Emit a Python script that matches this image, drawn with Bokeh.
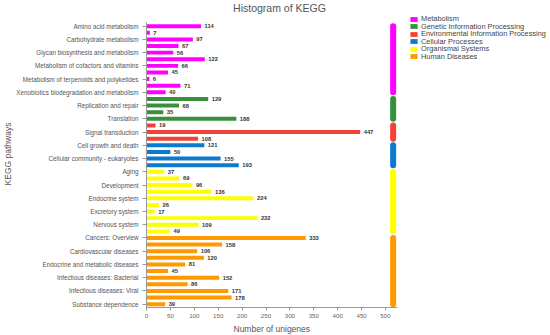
from bokeh.plotting import figure
from bokeh.models import ColumnDataSource, Range1d, FixedTicker, Legend, LegendItem, Label, Title
from bokeh.embed import file_html
from bokeh.resources import INLINE
from bokeh.core.properties import value

pathways = [
    "Amino acid metabolism", "Biosynthesis of other secondary metabolites",
    "Carbohydrate metabolism", "Energy metabolism",
    "Glycan biosynthesis and metabolism", "Lipid metabolism",
    "Metabolism of cofactors and vitamins", "Metabolism of other amino acids",
    "Metabolism of terpenoids and polyketides", "Nucleotide metabolism",
    "Xenobiotics biodegradation and metabolism",
    "Folding, sorting and degradation", "Replication and repair",
    "Transcription", "Translation",
    "Membrane transport", "Signal transduction",
    "Signaling molecules and interaction",
    "Cell growth and death", "Cell motility",
    "Cellular community - eukaryotes", "Transport and catabolism",
    "Aging", "Circulatory system", "Development", "Digestive system",
    "Endocrine system", "Environmental adaptation", "Excretory system",
    "Immune system", "Nervous system", "Sensory system",
    "Cancers: Overview", "Cancers: Specific types", "Cardiovascular diseases",
    "Drug resistance: Antineoplastic", "Endocrine and metabolic diseases",
    "Immune diseases", "Infectious diseases: Bacterial",
    "Infectious diseases: Parasitic", "Infectious diseases: Viral",
    "Neurodegenerative diseases", "Substance dependence",
]
counts = [114, 7, 97, 67, 56, 122, 66, 45, 6, 71, 40,
          129, 68, 35, 188,
          19, 447, 108,
          121, 50, 155, 193,
          37, 69, 96, 136, 224, 26, 17, 232, 109, 49,
          333, 158, 106, 120, 81, 45, 152, 86, 171, 178, 39]
group_names = ["Metabolism", "Genetic Information Processing",
               "Environmental Information Processing", "Cellular Processes",
               "Organismal Systems", "Human Diseases"]
group_sizes = [11, 4, 3, 4, 10, 11]
group_colors = ["#ff00ff", "#38903c", "#f44336", "#0b7bd0", "#ffff00", "#ff9900"]
x_ticks = [0, 50, 100, 150, 200, 250, 300, 350, 400, 450, 500]
x_axis_max = 525
title_text = "Histogram of KEGG"
x_label = "Number of unigenes"
y_label = "KEGG pathways"

FONT = "Liberation Sans"
n = len(pathways)

W, H = 550, 335
LEFT, BOTTOM = 146, 28
PX_PER_UNIT = 0.478
ROW_PX = 6.62
frame_w = W - LEFT
frame_h = H - BOTTOM
x_end = frame_w / PX_PER_UNIT
y_top = (n - 0.5) - frame_h / ROW_PX

# legend placement (screen px from frame top)
LEG_X = 263
LEG_FIRST = 18.7
LEG_PITCH = 7.45
LEG_ITEM_H = 9.2

p = figure(width=W, height=H, output_backend="svg", toolbar_location=None,
           x_range=Range1d(0, x_end), y_range=Range1d(n - 0.5, y_top),
           min_border_left=LEFT, min_border_right=0,
           min_border_top=0, min_border_bottom=BOTTOM)
p.outline_line_color = None
p.xgrid.visible = False
p.ygrid.visible = False

start = 0
for k, (name, size, color) in enumerate(zip(group_names, group_sizes, group_colors)):
    idx = list(range(start, start + size))
    src = ColumnDataSource(dict(y=idx, right=counts[start:start + size],
                                lab=[str(v) for v in counts[start:start + size]]))
    r = p.hbar(y="y", right="right", left=0, height=0.6, source=src,
               fill_color=color, line_color=None)
    p.text(x="right", y="y", text="lab", source=src, x_offset=3.5,
           text_baseline="middle", text_align="left",
           text_font=value(FONT), text_font_size="5.8px",
           text_font_style="bold", text_color="#333333")
    p.segment(x0=[516], y0=[start], x1=[516], y1=[start + size - 1],
              line_color=color, line_width=6, line_cap="round")

    center = LEG_FIRST + k * LEG_PITCH
    leg = Legend(items=[LegendItem(label=name, renderers=[r])],
                 location=(LEG_X, frame_h - center - LEG_ITEM_H / 2))
    leg.label_text_font = FONT
    leg.label_text_font_size = "7.4px"
    leg.label_text_color = "#444444"
    leg.glyph_width = 9
    leg.glyph_height = 6
    leg.label_height = 6
    leg.label_standoff = 3
    leg.spacing = 0
    leg.padding = 0
    leg.margin = 0
    leg.border_line_color = None
    leg.background_fill_alpha = 0
    p.add_layout(leg)
    start += size

title = Label(x=133, y=frame_h - 7.7, x_units="screen", y_units="screen",
              text=title_text, text_align="center", text_baseline="middle",
              text_font=FONT, text_font_size="10.5px", text_color="#555555")
p.add_layout(title)

# x axis
p.xaxis.bounds = (0, x_axis_max)
p.xaxis.ticker = FixedTicker(ticks=x_ticks)
p.xaxis.minor_tick_line_color = None
p.xaxis.major_tick_out = 3
p.xaxis.major_tick_in = 0
p.xaxis.axis_line_color = "#999999"
p.xaxis.major_tick_line_color = "#999999"
p.xaxis.major_label_text_font = FONT
p.xaxis.major_label_text_font_size = "6.2px"
p.xaxis.major_label_text_color = "#666666"
p.xaxis.major_label_standoff = 3

xlab = Title(text=x_label, align="left", offset=87, standoff=2,
             text_font=FONT, text_font_size="8.5px", text_font_style="normal",
             text_color="#555555")
p.add_layout(xlab, "below")

# y axis
p.yaxis.bounds = (-0.5, n - 0.5)
p.yaxis.ticker = FixedTicker(ticks=list(range(0, n, 2)))
p.yaxis.major_label_overrides = {i: pathways[i] for i in range(0, n, 2)}
p.yaxis.minor_tick_line_color = None
p.yaxis.major_tick_out = 4
p.yaxis.major_tick_in = 0
p.yaxis.axis_line_color = "#999999"
p.yaxis.major_tick_line_color = "#999999"
p.yaxis.major_label_text_font = FONT
p.yaxis.major_label_text_font_size = "6.3px"
p.yaxis.major_label_text_color = "#555555"
p.yaxis.major_label_standoff = 4
p.yaxis.axis_label = y_label
p.yaxis.axis_label_text_font = FONT
p.yaxis.axis_label_text_font_size = "8.5px"
p.yaxis.axis_label_text_font_style = "normal"
p.yaxis.axis_label_text_color = "#555555"
p.yaxis.axis_label_standoff = 0

open("out.html", "w").write(file_html(p, INLINE))
